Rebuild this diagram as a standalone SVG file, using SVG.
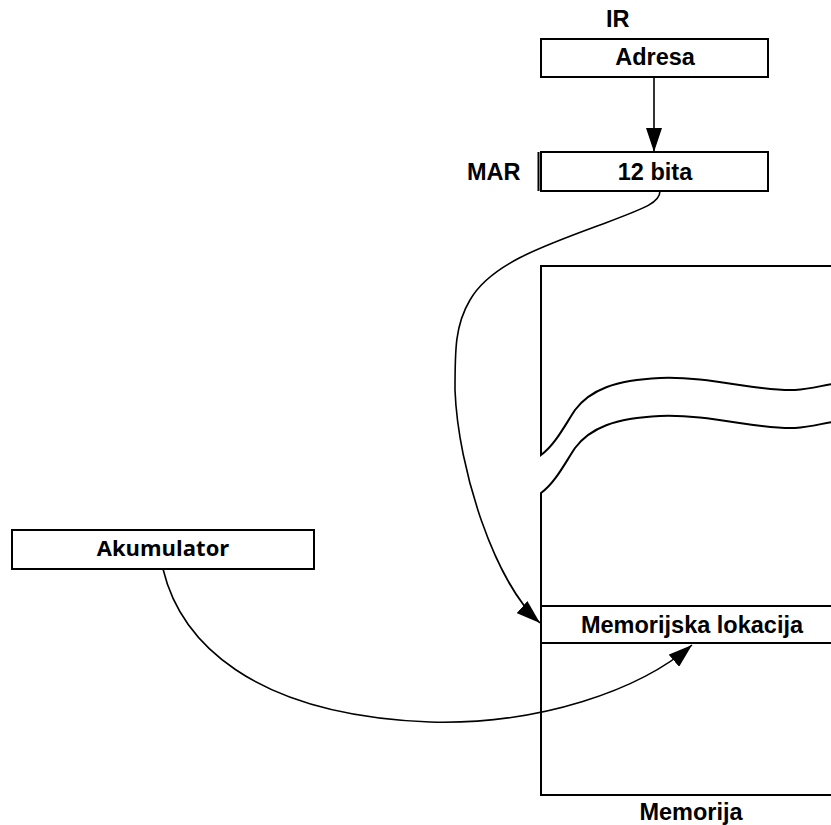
<svg xmlns="http://www.w3.org/2000/svg" width="831" height="825" viewBox="0 0 831 825">
<style>
.box{fill:#fff;stroke:#000;stroke-width:2}
.ln{fill:none;stroke:#000;stroke-width:2}
.conn{fill:none;stroke:#000;stroke-width:1.6}
.t{font-family:"Liberation Sans",Arial,sans-serif;font-weight:bold;font-size:23.5px;fill:#000}
.ta{font-family:"Open Sans","Liberation Sans",sans-serif;font-weight:bold;font-size:22px;fill:#000}
</style>
<defs>
<marker id="ah" viewBox="0 0 24 16" refX="24" refY="8" markerWidth="24" markerHeight="16" markerUnits="userSpaceOnUse" orient="auto">
<path d="M0,0 L24,8 L0,16 Z" fill="#000"/>
</marker>
</defs>
<rect width="831" height="825" fill="#fff"/>
<g id="ir">
<text class="t" x="606" y="27">IR</text>
<rect class="box" x="541" y="39" width="227" height="38"/>
<text class="t" x="655" y="65" text-anchor="middle">Adresa</text>
</g>
<g id="mar">
<text class="t" x="467" y="180">MAR</text>
<rect class="box" x="541" y="152" width="227" height="39"/>
<line class="ln" x1="538.5" y1="152" x2="538.5" y2="191"/>
<text class="t" x="655" y="180" text-anchor="middle">12 bita</text>
</g>
<g id="akumulator">
<rect class="box" x="12" y="530" width="302" height="39"/>
<text class="ta" x="163" y="556" text-anchor="middle">Akumulator</text>
</g>
<g id="memorija">
<path class="ln" d="M832,266 L541,266 L541,455 C555,445 565,425 575,410 C590,390 615,380 660,378 C710,376 760,392 795,390 C810,389 820,386 832,384"/>
<path class="ln" d="M832,422 C820,424 810,427 795,428 C760,430 710,414 660,416 C615,418 590,428 575,448 C565,463 555,483 541,493 L541,795 L832,795"/>
<text class="t" x="691" y="820" text-anchor="middle">Memorija</text>
</g>
<g id="lokacija">
<path class="ln" d="M541,606 L832,606 M541,643 L832,643"/>
<text class="t" x="692" y="633" text-anchor="middle">Memorijska lokacija</text>
</g>
<g id="connectors">
<path class="conn" d="M654,77 L654,152" marker-end="url(#ah)"/>
<path class="conn" d="M660,191 C660,203 645,208 600,225 C540,247 490,265 470,300 C455,325 455,350 455,390 C458,470 495,583 540,623" marker-end="url(#ah)"/>
<path class="conn" d="M163,569 C180,640 250,715 430,722 C540,725 640,690 692,645" marker-end="url(#ah)"/>
</g>
</svg>
